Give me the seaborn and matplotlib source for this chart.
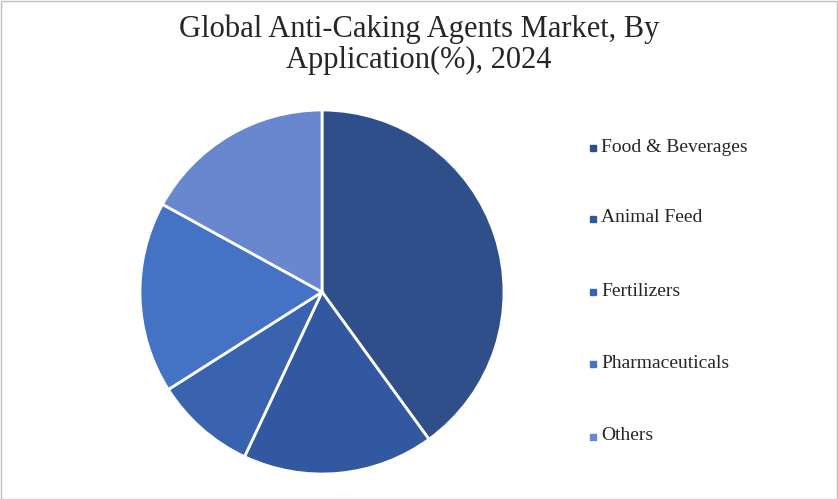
import matplotlib.pyplot as plt
import seaborn as sns
from matplotlib.patches import Rectangle

sns.set_theme(style="white")

labels = ["Food & Beverages", "Animal Feed", "Fertilizers", "Pharmaceuticals", "Others"]
shares = [40, 17, 9, 17, 17]
colors = ["#2F4F8A", "#3358A2", "#3963AE", "#4472C4", "#6887CE"]

fig = plt.figure(figsize=(8.38, 4.99), dpi=100)
fig.patches.append(Rectangle((0.001, 0.001), 0.998, 0.997, transform=fig.transFigure,
                             fill=False, edgecolor="#BFBFBF", lw=1))

ax = fig.add_axes([140 / 838, 25 / 499, 364 / 838, 364 / 499])
wedges, _ = ax.pie(shares, colors=colors, startangle=90, counterclock=False, radius=1,
                   wedgeprops={"edgecolor": "white", "linewidth": 2})
ax.set_xlim(-1, 1)
ax.set_ylim(-1, 1)
ax.set_aspect("equal")

fig.text(0.5, 0.97, "Global Anti-Caking Agents Market, By\nApplication(%), 2024",
         ha="center", va="top", fontsize=22, family="Liberation Serif", linespacing=1.05)

ys = [147, 218, 291, 363, 436]
for lab, col, y in zip(labels, colors, ys):
    fy = 1 - y / 499
    fig.patches.append(Rectangle((590 / 838, fy - 0.008), 6 / 838, 6 / 499,
                                 transform=fig.transFigure, color=col))
    fig.text(601 / 838, fy, lab, va="center", ha="left", fontsize=14,
             family="Liberation Serif")

fig.savefig("out.png", dpi=100)
